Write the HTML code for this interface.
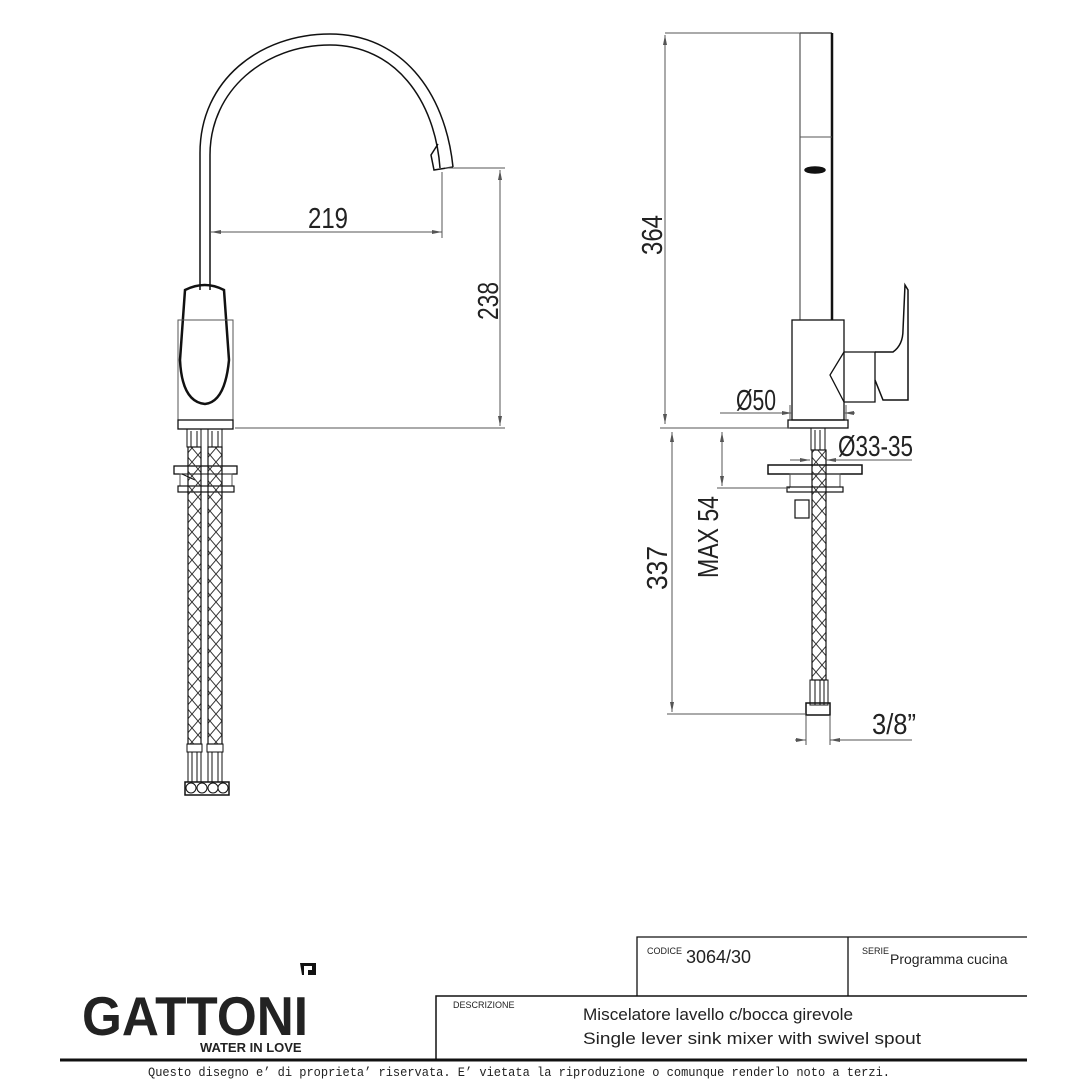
<!DOCTYPE html>
<html><head><meta charset="utf-8"><style>
body{margin:0;background:#fff;}
svg{display:block;}
.t{font-family:"Liberation Sans Narrow","Liberation Sans",sans-serif;}
</style></head><body>
<svg width="1080" height="1080" viewBox="0 0 1080 1080" xmlns="http://www.w3.org/2000/svg">
<defs>
<pattern id="br" width="12" height="14" patternUnits="userSpaceOnUse">
<path d="M0,0 L12,14 M12,0 L0,14" stroke="#333" stroke-width="1" fill="none"/>
</pattern>
<marker id="ar" markerWidth="10" markerHeight="6" refX="10" refY="3" orient="auto-start-reverse" markerUnits="userSpaceOnUse">
<path d="M0,1 L10,3 L0,5 Z" fill="#555"/>
</marker>
</defs>
<g fill="none" stroke="#111" stroke-width="1.5">
<path d="M200,290 L200,153 C200,80 260,34 330,34 C400,34 445,90 453,167"/>
<path d="M210,290 L210,155 C210,90 265,45 330,45 C395,45 435,100 440,168"/>
<path d="M453,167 L434,170 L431,155 L438,144"/>
<path d="M185,290 Q205,280 224,290 L229,360 Q225,402 205,404 Q182,402 180,360 Z" stroke-width="2.5"/>
<rect x="178" y="320" width="55" height="100" stroke="#555" stroke-width="1"/>
<rect x="178" y="420" width="55" height="9" stroke-width="1.3"/>
<rect x="187" y="429" width="14" height="18" stroke-width="1"/>
<rect x="208" y="429" width="14" height="18" stroke-width="1"/>
<path d="M191,431 V447 M197,431 V447 M212,431 V447 M218,431 V447" stroke-width="1"/>
<rect x="174" y="466" width="63" height="8" stroke-width="1.3"/>
<rect x="180" y="474" width="52" height="12" stroke="#555" stroke-width="1"/>
<rect x="178" y="486" width="56" height="6" stroke-width="1.2"/>
<path d="M182,474 L195,480" stroke-width="1"/>
<rect x="188" y="447" width="13" height="297" fill="url(#br)" stroke-width="1.2"/>
<rect x="208" y="447" width="14" height="297" fill="url(#br)" stroke-width="1.2"/>
<rect x="187" y="744" width="15" height="8" stroke-width="1"/>
<rect x="207" y="744" width="16" height="8" stroke-width="1"/>
<rect x="188" y="752" width="13" height="30" stroke-width="1"/>
<rect x="208" y="752" width="14" height="30" stroke-width="1"/>
<path d="M192,752 V782 M197,752 V782 M212,752 V782 M218,752 V782" stroke-width="1"/>
<rect x="185" y="782" width="44" height="13" stroke-width="1.5"/>
<circle cx="191" cy="788" r="5" stroke-width="1"/><circle cx="202" cy="788" r="5" stroke-width="1"/><circle cx="213" cy="788" r="5" stroke-width="1"/><circle cx="223" cy="788" r="5" stroke-width="1"/>

<path d="M800,33 H832" stroke="#555"/>
<path d="M800,33 V320" stroke="#555" stroke-width="1.2"/>
<path d="M832,33 V320" stroke-width="2.5"/>
<path d="M800,137 H832" stroke="#555" stroke-width="1"/>
<ellipse cx="815" cy="170" rx="10" ry="3" fill="#111"/>
<rect x="792" y="320" width="52" height="100" stroke-width="1.3"/>
<path d="M844,352 H875 V402 H844 M844,352 L830,375 L844,402" stroke-width="1.3"/>
<path d="M875,352 L893,352 Q903,345 903,330 L905,285 L908,290 L908,400 L883,400 L875,380" stroke-width="1.5"/>
<rect x="788" y="420" width="60" height="8" stroke-width="1.3"/>
<rect x="811" y="428" width="14" height="22" stroke-width="1"/>
<path d="M815,430 V450 M820,430 V450" stroke-width="1"/>
<rect x="768" y="465" width="94" height="9" stroke-width="1.5"/>
<rect x="790" y="474" width="50" height="13" stroke="#555" stroke-width="1"/>
<rect x="787" y="487" width="56" height="5" stroke-width="1.2"/>
<rect x="795" y="500" width="14" height="18" stroke-width="1.2"/>
<rect x="812" y="450" width="14" height="230" fill="url(#br)" stroke-width="1.2"/>
<rect x="810" y="680" width="18" height="25" stroke-width="1"/>
<path d="M815,680 V705 M820,680 V705 M824,680 V705" stroke-width="1"/>
<rect x="806" y="703" width="24" height="12" stroke-width="1.5"/>
</g>

<g stroke="#555" stroke-width="1" fill="none">
<line x1="211" y1="232" x2="442" y2="232" marker-start="url(#ar)" marker-end="url(#ar)"/>
<line x1="442" y1="172" x2="442" y2="238"/>
<line x1="445" y1="168" x2="505" y2="168"/>
<line x1="235" y1="428" x2="505" y2="428"/>
<line x1="500" y1="170" x2="500" y2="426" marker-start="url(#ar)" marker-end="url(#ar)"/>
<line x1="665" y1="33" x2="800" y2="33"/>
<line x1="665" y1="35" x2="665" y2="424" marker-start="url(#ar)" marker-end="url(#ar)"/>
<line x1="660" y1="428" x2="790" y2="428"/>
<line x1="672" y1="432" x2="672" y2="712" marker-start="url(#ar)" marker-end="url(#ar)"/>
<line x1="667" y1="714" x2="806" y2="714"/>
<line x1="722" y1="432" x2="722" y2="486" marker-start="url(#ar)" marker-end="url(#ar)"/>
<line x1="717" y1="488" x2="790" y2="488"/>
<line x1="770" y1="413" x2="792" y2="413" marker-end="url(#ar)"/>
<line x1="844" y1="413" x2="855" y2="413" marker-start="url(#ar)"/>
<line x1="720" y1="413" x2="770" y2="413"/>
<line x1="790" y1="405" x2="790" y2="420"/><line x1="846" y1="405" x2="846" y2="420"/>
<line x1="790" y1="460" x2="810" y2="460" marker-end="url(#ar)"/>
<line x1="826" y1="460" x2="912" y2="460" marker-start="url(#ar)"/>
<line x1="795" y1="740" x2="806" y2="740" marker-end="url(#ar)"/>
<line x1="830" y1="740" x2="912" y2="740" marker-start="url(#ar)"/>
<line x1="806" y1="716" x2="806" y2="745"/><line x1="830" y1="716" x2="830" y2="745"/>
</g>
<g class="t" font-size="29" fill="#222">
<text x="308" y="228" textLength="40" lengthAdjust="spacingAndGlyphs">219</text>
<text transform="translate(498,320) rotate(-90)" textLength="38" lengthAdjust="spacingAndGlyphs">238</text>
<text transform="translate(662,255) rotate(-90)" textLength="40" lengthAdjust="spacingAndGlyphs">364</text>
<text transform="translate(667,590) rotate(-90)" textLength="44" lengthAdjust="spacingAndGlyphs">337</text>
<text transform="translate(718,578) rotate(-90)" textLength="82" lengthAdjust="spacingAndGlyphs">MAX 54</text>
<text x="736" y="410" textLength="40" lengthAdjust="spacingAndGlyphs">Ø50</text>
<text x="838" y="456" textLength="75" lengthAdjust="spacingAndGlyphs">Ø33-35</text>
<text x="872" y="734" textLength="44" lengthAdjust="spacingAndGlyphs">3/8”</text>
</g>

<g fill="none" stroke="#111">
<path d="M637,996 V937 H1027 M848,937 V996" stroke-width="1.3"/>
<path d="M1027,996 H436 V1060" stroke-width="1.5"/>
<line x1="60" y1="1060" x2="1027" y2="1060" stroke-width="3"/>
</g>
<g font-family="'Liberation Sans',sans-serif" fill="#222">
<text x="647" y="954" font-size="9">CODICE</text>
<text x="686" y="963" font-size="18">3064/30</text>
<text x="862" y="954" font-size="9">SERIE</text>
<text x="890" y="964" font-size="14">Programma cucina</text>
<text x="453" y="1008" font-size="9">DESCRIZIONE</text>
<text x="583" y="1020" font-size="17" textLength="270" lengthAdjust="spacingAndGlyphs">Miscelatore lavello c/bocca girevole</text>
<text x="583" y="1044" font-size="17" textLength="338" lengthAdjust="spacingAndGlyphs">Single lever sink mixer with swivel spout</text>
<text x="82" y="1035" font-size="55" font-weight="bold" textLength="226" lengthAdjust="spacingAndGlyphs">GATTONI</text>
<text x="200" y="1052" font-size="13" font-weight="bold">WATER IN LOVE</text>
</g>
<path d="M300,963 H316 V975 H308 V970 H312 V966 H304 V975 H302 Z" fill="#111"/>
<text x="148" y="1076" textLength="742" lengthAdjust="spacingAndGlyphs" font-family="'Liberation Mono',monospace" font-size="12.5" fill="#222">Questo disegno e’ di proprieta’ riservata. E’ vietata la riproduzione o comunque renderlo noto a terzi.</text>
</svg>
</body></html>
